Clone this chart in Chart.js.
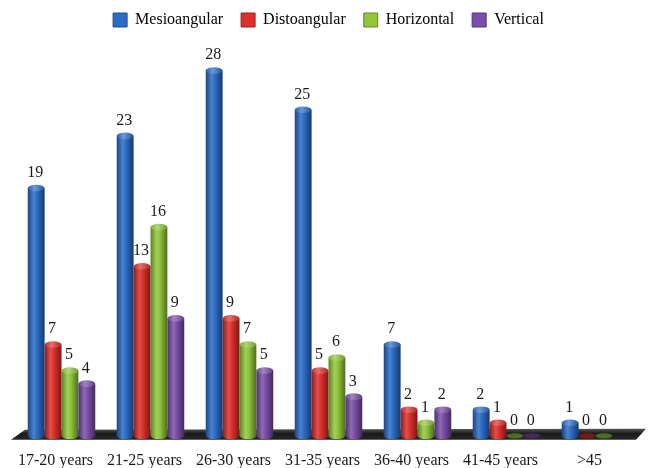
<!DOCTYPE html>
<html>
<head>
<meta charset="utf-8">
<script src="https://cdn.jsdelivr.net/npm/chart.js@4/dist/chart.umd.min.js"></script>
<style>
  html, body { margin: 0; padding: 0; background: #fff; }
  #wrap { width: 648px; height: 468px; }
</style>
</head>
<body>
<div id="wrap"><canvas id="chart-impaction"></canvas></div>
<script>
const ageGroups = ['17-20 years', '21-25 years', '26-30 years', '31-35 years', '36-40 years', '41-45 years', '>45'];
const mesioangular = [19, 23, 28, 25, 7, 2, 1];
const distoangular = [7, 13, 9, 5, 2, 1, 0];
const horizontal = [5, 16, 7, 6, 1, 0, 0];
const vertical = [4, 9, 5, 3, 2, 0, null];

const seriesNames = ['Mesioangular', 'Distoangular', 'Horizontal', 'Vertical'];
const seriesColors = ['#2b6cc6', '#dc302b', '#8fc63a', '#7a4ea8'];

function shade(hex, amt) {
	let n = parseInt(hex.slice(1), 16);
	let r = (n >> 16) & 255, g = (n >> 8) & 255, b = n & 255;
	const f = (c) => amt < 0 ? Math.round(c * (1 + amt)) : Math.round(c + (255 - c) * amt);
	return 'rgb(' + f(r) + ',' + f(g) + ',' + f(b) + ')';
}

// black floor under the bars
const floorPlugin = {
	id: 'floor',
	beforeDatasetsDraw(chart) {
		const a = chart.chartArea, ctx = chart.ctx;
		const b = a.bottom;
		ctx.save();
		const g = ctx.createLinearGradient(0, b - 7, 0, b + 5);
		g.addColorStop(0, '#555');
		g.addColorStop(0.4, '#1a1a1a');
		g.addColorStop(1, '#2a2a2a');
		ctx.fillStyle = g;
		ctx.beginPath();
		ctx.moveTo(a.left + 8, b - 6);
		ctx.lineTo(a.right + 6, b - 7);
		ctx.lineTo(a.right - 4, b + 4);
		ctx.lineTo(a.left - 6, b + 4);
		ctx.closePath();
		ctx.fill();
		ctx.restore();
	}
};

// cylinder look + value labels
const cylinderPlugin = {
	id: 'cylinder',
	afterDatasetsDraw(chart) {
		const ctx = chart.ctx;
		chart.data.datasets.forEach((ds, di) => {
			const meta = chart.getDatasetMeta(di);
			const col = seriesColors[di];
			meta.data.forEach((bar, i) => {
				const v = ds.data[i];
				if (v === null || v === undefined) return;
				const w = bar.width, x0 = bar.x - w / 2, x1 = bar.x + w / 2;
				const top = bar.y, base = bar.base;
				const ry = w * 0.2;
				ctx.save();
				if (v > 0) {
					const g = ctx.createLinearGradient(x0, 0, x1, 0);
					g.addColorStop(0, shade(col, -0.35));
					g.addColorStop(0.35, shade(col, 0.15));
					g.addColorStop(0.55, col);
					g.addColorStop(1, shade(col, -0.45));
					ctx.fillStyle = g;
					ctx.beginPath();
					ctx.moveTo(x0, top);
					ctx.lineTo(x0, base);
					ctx.ellipse(bar.x, base, w / 2, ry, 0, Math.PI, 0, true);
					ctx.lineTo(x1, top);
					ctx.closePath();
					ctx.fill();
					const g2 = ctx.createLinearGradient(x0, 0, x1, 0);
					g2.addColorStop(0, shade(col, -0.1));
					g2.addColorStop(0.4, shade(col, 0.3));
					g2.addColorStop(1, shade(col, -0.2));
					ctx.fillStyle = g2;
					ctx.beginPath();
					ctx.ellipse(bar.x, top, w / 2, ry, 0, 0, Math.PI * 2);
					ctx.fill();
				} else {
					ctx.fillStyle = shade(col, -0.45);
					ctx.beginPath();
					ctx.ellipse(bar.x, base, w / 2, ry * 0.8, 0, 0, Math.PI * 2);
					ctx.fill();
				}
				ctx.fillStyle = '#1a1a1a';
				ctx.font = '16px "Liberation Serif"';
				ctx.textAlign = 'center';
				ctx.textBaseline = 'bottom';
				ctx.fillText(String(v), bar.x - 1, top - ry - 4);
				ctx.restore();
			});
		});
	}
};

const datasets = [mesioangular, distoangular, horizontal, vertical].map((d, k) => ({
	label: seriesNames[k],
	data: d,
	backgroundColor: seriesColors[k],
	borderColor: shade(seriesColors[k], -0.3),
	borderWidth: 0,
	categoryPercentage: 0.76,
	barPercentage: 0.98
}));

const configChart = {
	type: 'bar',
	data: { labels: ageGroups, datasets: datasets },
	options: {
		responsive: false,
		animation: false,
		layout: { padding: { left: 17, right: 8, top: -6, bottom: -9 } },
		scales: {
			x: {
				grid: { display: false },
				border: { display: false },
				ticks: {
					color: '#1a1a1a',
					font: { family: 'Liberation Serif', size: 16 },
					padding: 7,
					labelOffset: -6,
					maxRotation: 0
				}
			},
			y: {
				display: false,
				min: 0,
				max: 30.5
			}
		},
		plugins: {
			legend: {
				position: 'top',
				labels: {
					color: '#1a1a1a',
					font: { family: 'Liberation Serif', size: 16 },
					boxWidth: 14,
					boxHeight: 14,
					padding: 18,
					generateLabels(chart) {
						return chart.data.datasets.map((ds, i) => ({
							text: ds.label,
							fillStyle: ds.backgroundColor,
							strokeStyle: ds.borderColor,
							lineWidth: 1,
							datasetIndex: i
						}));
					}
				}
			},
			tooltip: { enabled: false }
		}
	},
	plugins: [floorPlugin, cylinderPlugin]
};

const canvas = document.getElementById('chart-impaction');
canvas.width = 648;
canvas.height = 468;
window.chartImpaction = new Chart(canvas.getContext('2d'), configChart);
</script>
</body>
</html>
